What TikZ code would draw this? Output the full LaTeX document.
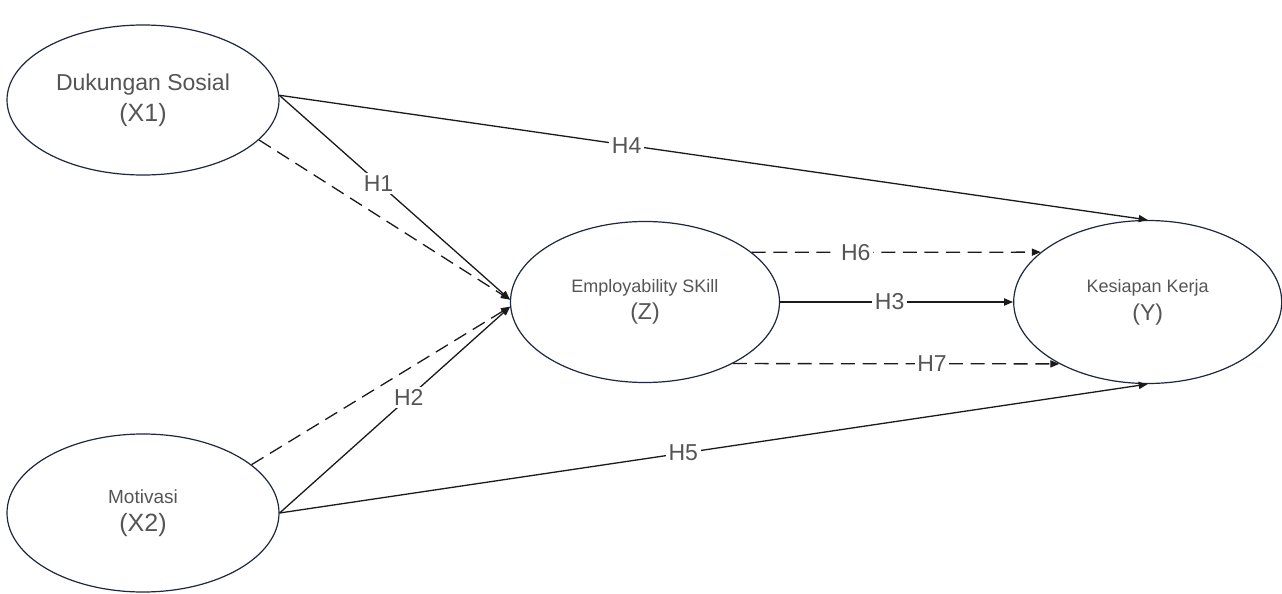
\documentclass[tikz,border=0pt]{standalone}
\usepackage{fontspec}
\setmainfont{Liberation Sans}
\usepackage{xcolor}
\usepackage{tikz}
\usetikzlibrary{positioning,arrows.meta,shapes.geometric}
\definecolor{SEMNavy}{HTML}{1E2640}
\definecolor{SEMInk}{HTML}{1A1A1A}
\definecolor{SEMText}{HTML}{555555}
\tikzset{
  semvar/.style={
    ellipse,
    draw=SEMNavy,
    line width=0.6pt,
    fill=white,
    align=center,
    inner sep=0pt,
    text=SEMText,
    minimum width=136pt,
    minimum height=76pt
  },
  semarrow/.style={-{Triangle[length=4.5pt,width=3.6pt]},line width=0.65pt,draw=SEMInk},
  semdashed/.style={semarrow,dash pattern=on 7pt off 3.8pt},
  semlabel/.style={fill=white,inner sep=1.3pt,text=SEMText,font=\fontsize{11.5}{13}\selectfont},
}

\begin{document}
\begin{tikzpicture}[x=0.5pt,y=-0.5pt]
  \useasboundingbox (0,0) rectangle (1282,594);

  \node[semvar,minimum height=75pt,font=\fontsize{12.5}{15.5}\selectfont] (X1) at (143,100)
    {{\fontsize{11.5}{15.5}\selectfont Dukungan Sosial}\\(X1)};
  \node[semvar,minimum height=79pt,font=\fontsize{12.5}{14}\selectfont] (X2) at (143,513)
    {{\fontsize{9.5}{14}\selectfont Motivasi}\\(X2)};
  \node[semvar,minimum width=134.5pt,minimum height=80.5pt,font=\fontsize{11.5}{13.5}\selectfont] (Z) at (645,302)
    {{\fontsize{9}{13.5}\selectfont Employability SKill}\\(Z)};
  \node[semvar,minimum width=134pt,minimum height=81.5pt,right=116.5pt of Z,
    font=\fontsize{11.5}{14}\selectfont] (Y)
    {{\fontsize{9}{14}\selectfont Kesiapan Kerja}\\(Y)};

  % paths into the mediator
  \draw[semdashed] (X1.341) -- (Z.179);
  \draw[semarrow] (X1.2) -- node[semlabel,pos=0.43] {H1} (Z.179);
  \draw[semdashed] (X2.24) -- (Z.182);
  \draw[semarrow] (X2.east) -- node[semlabel,pos=0.56] {H2} (Z.182);

  % direct paths
  \draw[semarrow] (X1.2) -- node[semlabel,pos=0.40] {H4} (Y.north);
  \draw[semarrow] (X2.east) -- node[semlabel,pos=0.465] {H5} (Y.south);

  % mediator to outcome
  \draw[semdashed] (Z.25) -- node[semlabel,pos=0.36] {H6} (Y.155);
  \draw[semarrow] (Z.east) -- node[semlabel,pos=0.47] {H3} (Y.west);
  \draw[semdashed] (Z.-35) -- node[semlabel,pos=0.61] {H7} (Y.215);
\end{tikzpicture}
\end{document}
